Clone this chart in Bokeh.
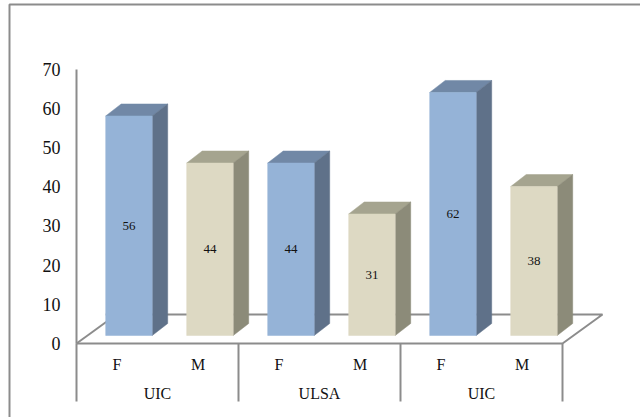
from bokeh.core.properties import value
from bokeh.embed import file_html
from bokeh.models import ColumnDataSource, FixedTicker, LinearAxis, Range1d
from bokeh.plotting import figure
from bokeh.resources import INLINE

# Survey counts by university and sex
groups = ["UIC", "ULSA", "UIC"]
sexes = ["F", "M", "F", "M", "F", "M"]
counts = [56, 44, 44, 31, 62, 38]
y_ticks = [0, 10, 20, 30, 40, 50, 60, 70]

W, H = 640, 417
SLOT_PX, Y_PX = 81.0, 3.92
X0_PX, Y0_PX = 76.0, 343.0

# 3D box layout, expressed in axis units
DEPTH_X = 15.5 / SLOT_PX
DEPTH_Y = 12.0 / Y_PX
BASE = 8.0 / Y_PX
BAR_W = 46.5 / SLOT_PX
BAR_OFFSET = 29.2 / SLOT_PX
FLOOR_DX = 40.0 / SLOT_PX
FLOOR_DY = 29.0 / Y_PX
LABEL_ROW_1 = -20.5 / Y_PX
LABEL_ROW_2 = -50.0 / Y_PX
DIVIDER_END = -58.0 / Y_PX

GREY = "#8c8c8c"
SERIF = value("Liberation Serif")
FACE = {"F": "#95b3d7", "M": "#ddd9c3"}
SIDE = {"F": "#5f7189", "M": "#8c8b79"}
ROOF = {"F": "#7188a6", "M": "#a5a48f"}

p = figure(
    width=W, height=H, output_backend="svg", toolbar_location=None,
    x_range=Range1d(-X0_PX / SLOT_PX, (W - X0_PX) / SLOT_PX),
    y_range=Range1d((Y0_PX - H) / Y_PX, Y0_PX / Y_PX),
    x_axis_type=None, y_axis_type=None,
    min_border=0, min_border_left=0, min_border_right=0,
    min_border_top=0, min_border_bottom=0,
)
p.grid.visible = False
p.outline_line_color = None

# Value axis sits at the back-left corner of the floor
y_axis = LinearAxis(
    fixed_location=0,
    ticker=FixedTicker(ticks=y_ticks),
    bounds=(0, 70),
    axis_line_color=GREY, axis_line_width=2,
    major_tick_line_color=None, minor_tick_line_color=None,
    major_label_text_font="Liberation Serif",
    major_label_text_font_size="18px",
    major_label_text_color="#111111",
    major_label_standoff=10,
)
p.add_layout(y_axis, "left")

# Chart area frame: left and top edges; the right edge lies beyond the page
frame_l, frame_t, frame_r = (9 - X0_PX) / SLOT_PX, (Y0_PX - 4) / Y_PX, (W + 5 - X0_PX) / SLOT_PX
frame_b = (Y0_PX - H - 5) / Y_PX
p.line([frame_l, frame_l, frame_r], [frame_b, frame_t, frame_t],
       line_color=GREY, line_width=2)

# Floor outline
n = len(counts)
p.line([0, FLOOR_DX * 0.75], [0, FLOOR_DY * 0.75], line_color=GREY, line_width=2)
p.line([BAR_OFFSET, n + FLOOR_DX, n, 0],
       [FLOOR_DY, FLOOR_DY, 0, 0], line_color=GREY, line_width=2)

# Boxes: top and side faces, then the front face
for i, (sex, v) in enumerate(zip(sexes, counts)):
    l, r = i + BAR_OFFSET, i + BAR_OFFSET + BAR_W
    top = BASE + v
    p.patch([l, r, r + DEPTH_X, l + DEPTH_X], [top, top, top + DEPTH_Y, top + DEPTH_Y],
            fill_color=ROOF[sex], line_color=ROOF[sex], line_width=0.5)
    p.patch([r, r + DEPTH_X, r + DEPTH_X, r], [BASE, BASE + DEPTH_Y, top + DEPTH_Y, top],
            fill_color=SIDE[sex], line_color=SIDE[sex], line_width=0.5)

src = ColumnDataSource(dict(
    left=[i + BAR_OFFSET for i in range(n)],
    right=[i + BAR_OFFSET + BAR_W for i in range(n)],
    top=[BASE + v for v in counts],
    bottom=[BASE] * n,
    color=[FACE[s] for s in sexes],
    cx=[i + BAR_OFFSET + BAR_W / 2 for i in range(n)],
    cy=[BASE + v / 2 for v in counts],
    label=[str(v) for v in counts],
))
p.quad(left="left", right="right", top="top", bottom="bottom", fill_color="color",
       line_color="color", line_width=0.5, source=src)
p.text(x="cx", y="cy", text="label", text_font=SERIF, text_font_size="13px",
       text_align="center", text_baseline="middle", text_color="#111111", source=src)

# Two-level category axis below the floor
p.text(x=[i + 0.5 for i in range(n)], y=[LABEL_ROW_1] * n, text=sexes, text_font=SERIF,
       text_font_size="16px", text_align="center", text_baseline="middle", text_color="#111111")
g = len(groups)
p.text(x=[2 * k + 1 for k in range(g)], y=[LABEL_ROW_2] * g, text=groups, text_font=SERIF,
       text_font_size="16px", text_align="center", text_baseline="middle", text_color="#111111")
p.segment(x0=[2 * k for k in range(g + 1)], y0=[0] * (g + 1),
          x1=[2 * k for k in range(g + 1)], y1=[DIVIDER_END] * (g + 1),
          line_color=GREY, line_width=2)

open("out.html", "w").write(file_html(p, INLINE))
